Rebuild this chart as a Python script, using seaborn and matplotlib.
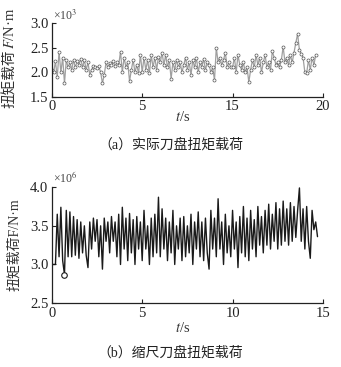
import numpy as np
import pandas as pd
import matplotlib
matplotlib.use("Agg")
import matplotlib.pyplot as plt
import seaborn as sns

# ----------------------------------------------------------
# DATA
# ----------------------------------------------------------

dt = 0.1

# (a) real cutterhead torque, x10^3
real_torque = [
    2.05, 2.0, 2.22, 1.9, 2.42, 2.0, 2.3, 1.78, 2.25, 2.1,
    2.2, 2.05, 2.25, 2.1, 2.22, 2.15, 2.28, 2.1, 2.25, 2.05,
    2.2, 1.95, 2.05, 2.12, 2.1, 2.08, 2.12, 2.0, 1.78, 1.95,
    2.2, 2.1, 2.18, 2.15, 2.22, 2.12, 2.2, 2.15, 2.42, 2.0,
    2.3, 2.1, 2.2, 1.82, 2.05, 2.25, 2.0, 2.15, 1.98, 2.36,
    2.0, 2.3, 2.05, 2.25, 1.98, 2.35, 2.1, 2.3, 2.05, 2.32,
    2.2, 2.4, 2.15, 2.35, 2.1, 2.25, 1.87, 2.2, 2.05, 2.25,
    2.1, 2.2, 2.0, 2.15, 2.3, 2.05, 2.2, 1.95, 2.25, 2.1,
    2.3, 2.0, 2.2, 2.1, 2.28, 2.05, 2.2, 2.15, 2.0, 2.1,
    1.84, 2.5, 2.2, 2.3, 2.15, 2.25, 2.4, 2.1, 2.2, 2.1,
    2.1, 2.3, 2.0, 2.35, 2.15, 2.05, 2.2, 2.0, 2.1, 1.8,
    2.05, 2.25, 2.1, 2.35, 2.15, 2.3, 2.0, 2.2, 2.35, 2.1,
    2.2, 2.05, 2.43, 2.3, 2.15, 2.2, 2.1, 2.25, 2.52, 2.2,
    2.3, 2.15, 2.35, 2.2, 2.4, 2.6, 2.78, 2.45, 2.38, 2.3,
    2.0, 1.98, 2.25, 2.05, 2.3, 2.15, 2.35,
]

# (b) scaled cutterhead torque, x10^6
scaled_torque = [
    3.0, 3.0, 3.0, 3.65, 3.1, 3.74, 3.05, 2.87, 3.7, 3.1,
    3.68, 3.1, 3.62, 3.12, 3.58, 3.08, 3.55, 3.15, 3.5, 3.12,
    2.96, 3.55, 3.2, 3.6, 3.3, 3.58, 3.1, 3.5, 2.94, 3.6,
    3.3, 3.55, 3.15, 3.62, 3.3, 3.55, 3.1, 3.65, 3.0, 3.74,
    3.2, 3.6, 3.05, 3.66, 3.15, 3.58, 3.0, 3.62, 3.2, 3.55,
    3.05, 3.7, 3.2, 3.5, 3.0, 3.6, 3.1, 3.65, 3.15, 3.87,
    3.1, 3.72, 3.2, 3.6, 3.05, 3.55, 3.15, 3.7, 3.0, 3.5,
    3.2, 3.6, 3.05, 3.62, 3.1, 3.5, 3.15, 3.65, 3.0, 3.55,
    3.2, 3.68, 3.1, 3.55, 3.05, 3.6, 3.15, 2.94, 3.7, 3.2,
    3.6, 3.1, 3.85, 3.2, 3.55, 3.0, 3.65, 3.15, 3.5, 3.1,
    3.7, 3.2, 3.55, 2.96, 3.62, 3.15, 3.75, 3.1, 3.6, 3.05,
    3.7, 3.2, 3.58, 3.1, 3.75, 3.25, 3.62, 3.15, 3.7, 3.25,
    3.78, 3.2, 3.65, 3.3, 3.8, 3.2, 3.72, 3.25, 3.82, 3.3,
    3.72, 3.25, 3.8, 3.3, 3.75, 3.35, 3.7, 3.99, 3.3, 3.72,
    3.2, 3.75, 3.3, 3.08, 3.7, 3.45, 3.55, 3.36,
]
marked_index = 7

x_ticks = [0, 5, 10, 15]
top_xlabels = ["0", "5", "15", "20"]
bottom_xlabels = ["0", "5", "10", "15"]
top_yticks = [1.5, 2.0, 2.5, 3.0]
bottom_yticks = [2.5, 3.0, 3.5, 4.0]

df_a = pd.DataFrame({"t": np.arange(len(real_torque)) * dt, "F": real_torque})
df_b = pd.DataFrame({"t": np.arange(len(scaled_torque)) * dt, "F": scaled_torque})

# ----------------------------------------------------------
# STYLE
# ----------------------------------------------------------

sns.set_style("ticks")
plt.rcParams['font.family'] = ['Liberation Serif', 'Noto Sans CJK SC']
plt.rcParams['mathtext.fontset'] = 'stix'

fig = plt.figure(figsize=(3.41, 3.67), dpi=100)
ax1 = fig.add_axes([0.152, 0.736, 0.795, 0.201])
ax2 = fig.add_axes([0.152, 0.174, 0.795, 0.316])

# ----------------------------------------------------------
# (a) REAL TORQUE
# ----------------------------------------------------------

sns.lineplot(data=df_a, x="t", y="F", ax=ax1, color="#a0a0a0", lw=0.9,
             marker="o", markersize=2.2, markerfacecolor="white",
             markeredgecolor="#555555", markeredgewidth=0.5)
ax1.set_xlim(0, 15)
ax1.set_ylim(1.5, 3.0)
ax1.set_xticks(x_ticks)
ax1.set_xticklabels(top_xlabels)
ax1.set_yticks(top_yticks)
ax1.set_yticklabels([f"{v:.1f}" for v in top_yticks])

# ----------------------------------------------------------
# (b) SCALED TORQUE
# ----------------------------------------------------------

sns.lineplot(data=df_b, x="t", y="F", ax=ax2, color="#1a1a1a", lw=1.0)
ax2.plot(df_b["t"][marked_index], df_b["F"][marked_index], "o",
         ms=4, mfc="white", mec="#1a1a1a", mew=0.8)
ax2.set_xlim(0, 15)
ax2.set_ylim(2.5, 4.0)
ax2.set_xticks(x_ticks)
ax2.set_xticklabels(bottom_xlabels)
ax2.set_yticks(bottom_yticks)
ax2.set_yticklabels([f"{v:.1f}" for v in bottom_yticks])

for ax in (ax1, ax2):
    sns.despine(ax=ax)
    ax.set_xlabel("")
    ax.set_ylabel("")
    ax.tick_params(direction="in", length=3, width=0.8, labelsize=10.5,
                   colors="#222222")
    ax.tick_params(axis="x", pad=2.5)
    ax.tick_params(axis="y", pad=2.5)
    for s in ("left", "bottom"):
        ax.spines[s].set_linewidth(0.9)
        ax.spines[s].set_color("#222222")

# ----------------------------------------------------------
# TEXTS
# ----------------------------------------------------------

fig.text(0.155, 0.958, "×10$^3$", fontsize=8.5, color="#444444", va="center")
fig.text(0.155, 0.515, "×10$^6$", fontsize=8.5, color="#444444", va="center")

# top y label: CJK part and italic F part drawn separately
fig.text(0.030, 0.866, "扭矩载荷", rotation=90, fontsize=10.5,
         color="#333333", ha="center", va="top")
fig.text(0.030, 0.866, "$F$/N·m", rotation=90, fontsize=10.5,
         color="#333333", ha="center", va="bottom")
fig.text(0.042, 0.332, "扭矩载荷F/N·m", rotation=90, fontsize=10,
         color="#333333", ha="center", va="center")

fig.text(0.535, 0.680, "$t$/s", fontsize=10.5, color="#333333", ha="center", va="center")
fig.text(0.535, 0.106, "$t$/s", fontsize=10.5, color="#333333", ha="center", va="center")

fig.text(0.50, 0.605, "（a）实际刀盘扭矩载荷", fontsize=10, color="#222222",
         ha="center", va="center")
fig.text(0.50, 0.038, "（b）缩尺刀盘扭矩载荷", fontsize=10, color="#222222",
         ha="center", va="center")

fig.savefig("out.png", dpi=100)
